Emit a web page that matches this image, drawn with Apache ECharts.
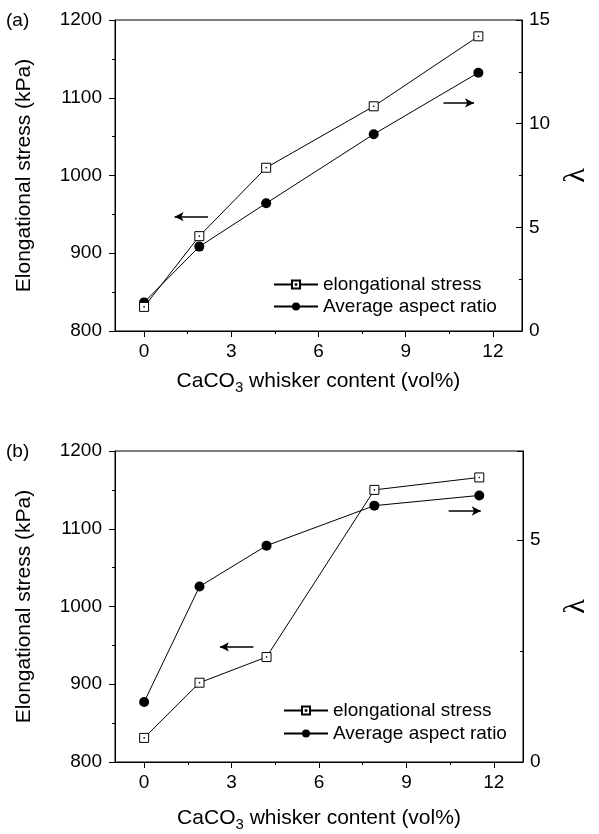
<!DOCTYPE html>
<html>
<head>
<meta charset="utf-8">
<script src="https://cdn.jsdelivr.net/npm/echarts@6/dist/echarts.min.js"></script>
<style>
html, body { margin: 0; padding: 0; background: #fff; }
#chart { width: 599px; height: 834px; }
</style>
</head>
<body>
<div id="chart"></div>
<script>
// whisker content (vol%)
var content = [0, 1.9, 4.2, 7.9, 11.5];
// panel (a)
var stressA = [831, 922, 1010, 1089, 1179];
var ratioA = [1.38, 4.07, 6.16, 9.49, 12.46];
// panel (b)
var stressB = [831, 902, 935, 1150, 1166];
var ratioB = [1.35, 3.95, 4.87, 5.77, 6.0];
// tick values
var xMajor = [0, 3, 6, 9, 12];
var xMinor = [1.5, 4.5, 7.5, 10.5];
// arrow annotations [from, to] in data coordinates
var arrowStressA = [[2.2, 947], [1.05, 947]];
var arrowRatioA = [[10.3, 11.0], [11.35, 11.0]];
var arrowStressB = [[3.75, 948], [2.6, 948]];
var arrowRatioB = [[10.45, 5.65], [11.55, 5.65]];

var chart = echarts.init(document.getElementById('chart'), null, { renderer: 'canvas' });

var FONT = 'Liberation Sans';
var squarePath = 'path://M0,0H10V10H0Z M4.6,4.6H5.4V5.4H4.6Z';

function pairs(xs, ys) {
    return xs.map(function (x, i) { return [x, ys[i]]; });
}
function plain(v) { return String(v); }

function xAxes(grid, gap) {
    return [
        {
            gridIndex: grid,
            type: 'value',
            position: 'bottom',
            min: -1,
            max: 13,
            axisLine: { onZero: false, lineStyle: { color: '#000', width: 1 } },
            axisTick: { show: true, inside: false, length: 6, customValues: xMajor, lineStyle: { color: '#000' } },
            axisLabel: { customValues: xMajor, color: '#000', fontSize: 19, fontFamily: FONT, margin: 11, formatter: plain },
            splitLine: { show: false },
            name: 'CaCO{sub|3} whisker content (vol%)',
            nameLocation: 'middle',
            nameGap: gap,
            nameTextStyle: {
                color: '#000', fontSize: 21, fontFamily: FONT,
                rich: { sub: { fontSize: 15, fontFamily: FONT, color: '#000', lineHeight: 28, verticalAlign: 'bottom' } }
            }
        },
        {
            gridIndex: grid,
            type: 'value',
            position: 'bottom',
            min: -1,
            max: 13,
            axisLine: { show: false, onZero: false },
            axisTick: { show: true, inside: false, length: 3, customValues: xMinor, lineStyle: { color: '#000' } },
            axisLabel: { show: false },
            splitLine: { show: false }
        }
    ];
}

function yAxes(grid, rmax) {
    return [
        {
            gridIndex: grid,
            type: 'value',
            position: 'left',
            min: 800,
            max: 1200,
            interval: 100,
            axisLine: { show: true, onZero: false, lineStyle: { color: '#000', width: 1 } },
            axisTick: { show: true, inside: false, length: 6, lineStyle: { color: '#000' } },
            minorTick: { show: true, splitNumber: 2, length: 3, lineStyle: { color: '#000' } },
            axisLabel: { color: '#000', fontSize: 19, fontFamily: FONT, margin: 13, formatter: plain },
            splitLine: { show: false },
            name: 'Elongational stress (kPa)',
            nameLocation: 'middle',
            nameRotate: 90,
            nameGap: 80,
            nameTextStyle: { color: '#000', fontSize: 21, fontFamily: FONT }
        },
        {
            gridIndex: grid,
            type: 'value',
            position: 'right',
            min: 0,
            max: rmax,
            interval: 5,
            axisLine: { show: true, onZero: false, lineStyle: { color: '#000', width: 1 } },
            axisTick: { show: true, inside: true, length: 6, lineStyle: { color: '#000' } },
            minorTick: { show: true, splitNumber: 2, length: 3, lineStyle: { color: '#000' } },
            axisLabel: { color: '#000', fontSize: 19, fontFamily: FONT, margin: 7, showMaxLabel: rmax % 5 === 0, formatter: plain },
            splitLine: { show: false },
            name: 'λ',
            nameLocation: 'middle',
            nameRotate: 90,
            nameGap: 38,
            nameTextStyle: { color: '#000', fontSize: 30, fontFamily: 'Liberation Serif' }
        }
    ];
}

function arrowLine(seg) {
    return {
        silent: true,
        symbol: ['none', 'arrow'],
        symbolSize: [7, 9],
        label: { show: false },
        lineStyle: { color: '#000', width: 1.5, type: 'solid' },
        data: [[{ coord: seg[0] }, { coord: seg[1] }]]
    };
}

function seriesFor(grid, stress, ratio, arrowS, arrowR) {
    return [
        {
            name: 'elongational stress',
            type: 'line',
            xAxisIndex: grid * 2,
            yAxisIndex: grid * 2,
            data: pairs(content, stress),
            symbol: squarePath,
            symbolSize: 9,
            lineStyle: { color: '#000', width: 1 },
            itemStyle: { color: '#fff', borderColor: '#000', borderWidth: 1 },
            z: 3,
            markLine: arrowLine(arrowS)
        },
        {
            name: 'Average aspect ratio',
            type: 'line',
            xAxisIndex: grid * 2,
            yAxisIndex: grid * 2 + 1,
            data: pairs(content, ratio),
            symbol: 'circle',
            symbolSize: 10,
            lineStyle: { color: '#000', width: 1 },
            itemStyle: { color: '#000' },
            z: 2,
            markLine: arrowLine(arrowR)
        }
    ];
}

function legendAt(left, top, gap) {
    return {
        orient: 'vertical',
        left: left,
        top: top,
        itemWidth: 44,
        itemHeight: 10,
        itemGap: gap,
        padding: 0,
        selectedMode: false,
        textStyle: { color: '#000', fontSize: 19, fontFamily: FONT },
        data: ['elongational stress', 'Average aspect ratio']
    };
}

var option = {
    backgroundColor: '#fff',
    animation: false,
    grid: [
        { left: 115, top: 20, width: 418, height: 311, show: true, borderColor: '#000', borderWidth: 1, backgroundColor: 'transparent' },
        { left: 115, top: 451, width: 418, height: 311, show: true, borderColor: '#000', borderWidth: 1, backgroundColor: 'transparent' }
    ],
    xAxis: xAxes(0, 36).concat(xAxes(1, 42)),
    yAxis: yAxes(0, 15).concat(yAxes(1, 7)),
    legend: [legendAt(273, 275, 3), legendAt(283, 701, 4)],
    series: seriesFor(0, stressA, ratioA, arrowStressA, arrowRatioA)
        .concat(seriesFor(1, stressB, ratioB, arrowStressB, arrowRatioB)),
    graphic: [
        { type: 'text', left: 6, top: 11, style: { text: '(a)', fontSize: 19, fontFamily: FONT, fill: '#000' } },
        { type: 'text', left: 6, top: 442, style: { text: '(b)', fontSize: 19, fontFamily: FONT, fill: '#000' } }
    ]
};
chart.setOption(option);
</script>
</body>
</html>
